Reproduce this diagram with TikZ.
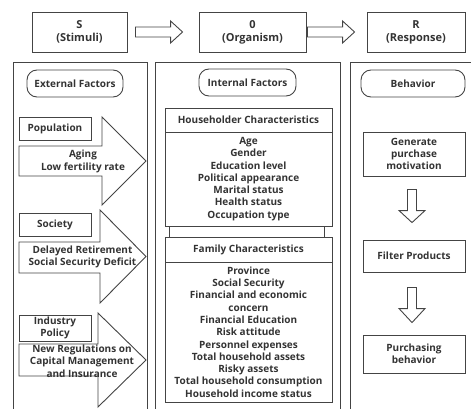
\documentclass[tikz,border=0pt]{standalone}
\usepackage{fontspec}
\setmainfont{Open Sans}
\usetikzlibrary{calc}
\definecolor{ln}{HTML}{444444}
\definecolor{tx}{HTML}{333333}
\begin{document}
\begin{tikzpicture}[x=1pt,y=-1pt,
  every node/.style={font=\bfseries\fontsize{10}{12.3}\selectfont, text=tx, inner sep=0pt, align=center},
  box/.style={draw=ln, line width=0.9pt},
  titlebox/.style={box, font=\bfseries\fontsize{11}{13}\selectfont},
  panel/.style={draw=ln, line width=1.1pt, anchor=north west},
  pill/.style={box, rounded corners=10pt},
  blk/.style={draw=ln, line width=0.9pt, fill=white, line join=miter}]
\useasboundingbox (0,0) rectangle (471,409);

% top boxes
\node[titlebox, minimum width=95, minimum height=40] (S) at (79.5,32) {S\\(Stimuli)};
\node[titlebox, minimum width=107, minimum height=40] (O) at (252.5,32) {0\\(Organism)};
\node[titlebox, minimum width=98, minimum height=40] (R) at (416,32) {R\\(Response)};

\draw[blk] let \p1=([xshift=8pt]S.east), \p2=([xshift=-16pt]O.west) in
  (\x1,\y1+5pt) -- (\x2-12pt,\y1+5pt) -- (\x2-12pt,\y1+11pt) -- (\x2,\y1)
  -- (\x2-12pt,\y1-11pt) -- (\x2-12pt,\y1-5pt) -- (\x1,\y1-5pt) -- cycle;
\draw[blk] let \p1=([xshift=1pt]O.east), \p2=([xshift=-12pt]R.west) in
  (\x1,\y1+5pt) -- (\x2-12pt,\y1+5pt) -- (\x2-12pt,\y1+11pt) -- (\x2,\y1)
  -- (\x2-12pt,\y1-11pt) -- (\x2-12pt,\y1-5pt) -- (\x1,\y1-5pt) -- cycle;

% panels
\node[panel, minimum width=134, minimum height=352] (PL) at (13,62) {};
\node[panel, minimum width=185, minimum height=352] (PM) at (155,62) {};
\node[panel, minimum width=125, minimum height=352] (PR) at (350,62) {};

% pills
\node[pill, minimum width=96, minimum height=27] (ext) at (75,83.5) {External Factors};
\node[pill, minimum width=97, minimum height=27] (int) at (247.5,82.5) {Internal Factors};
\node[pill, minimum width=104, minimum height=27] (beh) at (413,83.5) {Behavior};

% left panel
\draw[blk] (19,146) -- (102,146) -- (102,117) -- (146,161) -- (102,205) -- (102,176) -- (19,176) -- cycle;
\node[box, minimum width=72, minimum height=23] (pop) at (55,128.5) {Population};
\node (popt) at (83,161.5) {Aging\\Low fertility rate};

\draw[blk] (19,242) -- (100,242) -- (100,210) -- (146,256.5) -- (100,303) -- (100,273) -- (19,273) -- cycle;
\node[box, minimum width=72, minimum height=23] (soc) at (55,224.5) {Society};
\node (soct) at (82.5,257) {Delayed Retirement\\Social Security Deficit};

\draw[blk] (19,344) -- (98,344) -- (98,313) -- (146,360) -- (98,407) -- (98,376) -- (19,376) -- cycle;
\node[box, minimum width=72, minimum height=26] (ind) at (55,328) {Industry\\Policy};
\node (indt) at (82,361) {New Regulations on\\Capital Management\\and Insurance};

% middle panel
\node[box, minimum width=167, minimum height=24] (hh) at (248.5,120) {Householder Characteristics};
\node[box, minimum width=167, minimum height=94] (hb) at (248.5,179) {Age\\Gender\\Education level\\Political appearance\\Marital status\\Health status\\Occupation type};
\node[box, minimum width=167, minimum height=25] (fh) at (248.5,249.5) {Family Characteristics};
\node[box, minimum width=167, minimum height=140] (fb) at (248.5,332) {Province\\Social Security\\Financial and economic\\concern\\Financial Education\\Risk attitude\\Personnel expenses\\Total household assets\\Risky assets\\Total household consumption\\Household income status};
\draw[draw=ln, line width=0.9pt] ([xshift=5pt]hb.south west) -- ([xshift=5pt]fh.north west);
\draw[draw=ln, line width=0.9pt] ([xshift=-8pt]hb.south east) -- ([xshift=-8pt]fh.north east);

% right panel
\node[box, minimum width=102, minimum height=44] (gen) at (414,154) {Generate\\purchase\\motivation};
\node[box, minimum width=102, minimum height=32] (fil) at (414,256) {Filter Products};
\node[box, minimum width=102, minimum height=38] (pur) at (414,354) {Purchasing\\behavior};

\draw[blk] let \p1=([xshift=-2pt,yshift=-13pt]gen.south), \p2=([xshift=-2pt,yshift=17pt]fil.north) in
  (\x1-4.5pt,\y1) -- (\x1-4.5pt,\y2+12pt) -- (\x1-13pt,\y2+12pt) -- (\x1,\y2)
  -- (\x1+13pt,\y2+12pt) -- (\x1+4.5pt,\y2+12pt) -- (\x1+4.5pt,\y1) -- cycle;
\draw[blk] let \p1=([xshift=-2pt,yshift=-15pt]fil.south), \p2=([xshift=-2pt,yshift=12pt]pur.north) in
  (\x1-4.5pt,\y1) -- (\x1-4.5pt,\y2+14pt) -- (\x1-13pt,\y2+14pt) -- (\x1,\y2)
  -- (\x1+13pt,\y2+14pt) -- (\x1+4.5pt,\y2+14pt) -- (\x1+4.5pt,\y1) -- cycle;
\end{tikzpicture}
\end{document}
